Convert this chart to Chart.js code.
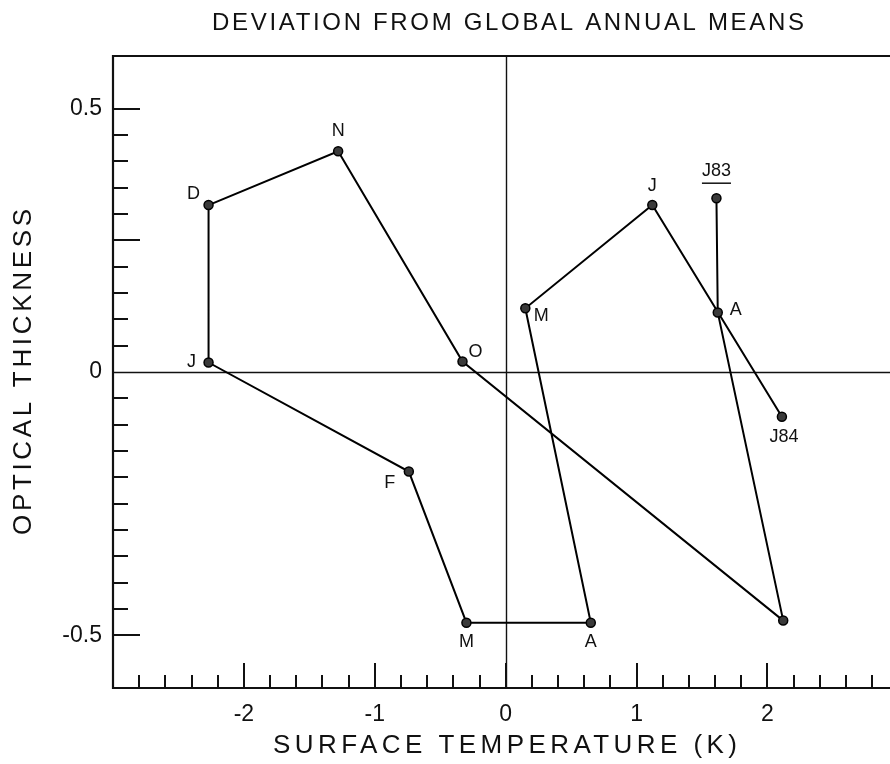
<!DOCTYPE html>
<html>
<head>
<meta charset="utf-8">
<script src="https://cdn.jsdelivr.net/npm/chart.js@4.4.1/dist/chart.umd.min.js"></script>
<style>
  html, body { margin: 0; padding: 0; background: #fff; overflow: hidden; }
  #wrap { width: 890px; height: 764px; }
</style>
</head>
<body>
<div id="wrap"><canvas id="chart" width="890" height="764"></canvas></div>
<script>
// monthly points, Jun 1983 .. Jun 1984 (labels as printed)
const months = ['J83', 'A', 'S', 'O', 'N', 'D', 'J', 'F', 'M', 'A', 'M', 'J', 'J84'];
const tempDev = [1.61, 1.62, 2.12, -0.33, -1.28, -2.27, -2.27, -0.74, -0.3, 0.65, 0.15, 1.12, 2.11];
const tauDev = [0.33, 0.113, -0.472, 0.02, 0.419, 0.317, 0.018, -0.189, -0.476, -0.476, 0.121, 0.317, -0.085];

// axis tick labels
const xTicks = [-2, -1, 0, 1, 2];
const yTicks = [-0.5, 0, 0.5];

// where each month label sits relative to its point (px), null = no label
const labelOffsets = [[0, -27], [18, -2], null, [13, -9], [0, -20], [-15, -11], [-17, 0],
  [-19, 11], [0, 19], [0, 19], [16, 8], [0, -19], [2, 20]];

const FONT = '"Liberation Sans", Arial, sans-serif';
const INK = '#111';

// draw text stretched (by letter spacing) to a given width, centred on cx
const fitText = (ctx, text, cx, cy, width, size) => {
  ctx.font = size + 'px ' + FONT;
  ctx.letterSpacing = '0px';
  const w = ctx.measureText(text).width;
  const sp = (width - w) / (text.length - 1);
  ctx.letterSpacing = sp + 'px';
  ctx.textAlign = 'left';
  ctx.textBaseline = 'middle';
  ctx.fillText(text, cx - width / 2, cy);
  ctx.letterSpacing = '0px';
};

const decorPlugin = {
  id: 'decor',
  beforeDatasetsDraw(chart) {
    const ctx = chart.ctx;
    const a = chart.chartArea;
    const xs = chart.scales.x, ys = chart.scales.y;
    const edge = chart.width + 2;
    ctx.save();
    ctx.strokeStyle = INK;
    // frame (right side runs off the page)
    ctx.lineWidth = 2.2;
    ctx.beginPath();
    ctx.moveTo(edge, a.top);
    ctx.lineTo(a.left, a.top);
    ctx.lineTo(a.left, a.bottom);
    ctx.lineTo(edge, a.bottom);
    ctx.stroke();
    // zero lines
    ctx.lineWidth = 1.4;
    ctx.beginPath();
    const x0 = Math.round(xs.getPixelForValue(0)) + 0.5;
    const y0 = Math.round(ys.getPixelForValue(0)) + 0.5;
    ctx.moveTo(x0, a.top); ctx.lineTo(x0, a.bottom);
    ctx.moveTo(a.left, y0); ctx.lineTo(edge, y0);
    ctx.stroke();
    // inward tick marks on the bottom axis
    ctx.lineWidth = 2;
    ctx.beginPath();
    for (let i = -14; i <= 14; i++) {
      const v = i / 5;
      const px = Math.round(xs.getPixelForValue(v));
      const len = i % 5 === 0 ? 25 : 13;
      ctx.moveTo(px, a.bottom); ctx.lineTo(px, a.bottom - len);
    }
    // inward tick marks on the left axis
    for (let i = -10; i <= 10; i++) {
      if (i === 0) continue;
      const v = i / 20;
      const py = Math.round(ys.getPixelForValue(v));
      const len = (i === 10 || i === 5 || i === -10) ? 27 : 15;
      ctx.moveTo(a.left, py); ctx.lineTo(a.left + len, py);
    }
    ctx.stroke();
    ctx.restore();
  },
  afterDraw(chart) {
    const ctx = chart.ctx;
    const xs = chart.scales.x, ys = chart.scales.y;
    ctx.save();
    ctx.fillStyle = INK;
    ctx.strokeStyle = INK;
    // month labels
    ctx.font = '18px ' + FONT;
    ctx.textAlign = 'center';
    ctx.textBaseline = 'middle';
    months.forEach((m, i) => {
      const off = labelOffsets[i];
      if (!off) return;
      const px = xs.getPixelForValue(tempDev[i]) + off[0];
      const py = ys.getPixelForValue(tauDev[i]) + off[1];
      ctx.fillText(m, px, py);
      if (m === 'J83') {
        const w = ctx.measureText(m).width;
        ctx.lineWidth = 1.5;
        ctx.beginPath();
        ctx.moveTo(px - w / 2, py + 12); ctx.lineTo(px + w / 2, py + 12);
        ctx.stroke();
      }
    });
    // titles
    fitText(ctx, 'DEVIATION FROM GLOBAL ANNUAL MEANS', 508, 23, 592, 24);
    fitText(ctx, 'SURFACE TEMPERATURE (K)', 505, 746, 464, 26);
    ctx.save();
    ctx.translate(24, 372);
    ctx.rotate(-Math.PI / 2);
    fitText(ctx, 'OPTICAL THICKNESS', 0, 0, 326, 26);
    ctx.restore();
    ctx.restore();
  }
};

const points = tempDev.map((x, i) => ({ x: x, y: tauDev[i] }));

new Chart(document.getElementById('chart').getContext('2d'), {
  type: 'scatter',
  data: {
    datasets: [{
      data: points,
      showLine: true,
      borderColor: '#000',
      borderWidth: 2,
      pointRadius: 4.5,
      pointBackgroundColor: '#3a3a3a',
      pointBorderColor: '#000',
      pointBorderWidth: 1.5,
      tension: 0
    }]
  },
  options: {
    responsive: false,
    animation: false,
    layout: { padding: { top: 56, right: 0, left: 0, bottom: 0 } },
    plugins: { legend: { display: false }, tooltip: { enabled: false } },
    scales: {
      x: {
        type: 'linear',
        min: -3,
        max: 2.89,
        grid: { display: false, drawTicks: false },
        border: { display: false },
        afterBuildTicks: (s) => { s.ticks = xTicks.map(v => ({ value: v })); },
        afterFit: (s) => { s.height = 76; },
        ticks: {
          padding: 13,
          color: INK,
          font: { family: FONT, size: 23 },
          maxRotation: 0,
          callback: (v) => String(v)
        }
      },
      y: {
        type: 'linear',
        min: -0.6,
        max: 0.6,
        grid: { display: false, drawTicks: false },
        border: { display: false },
        afterBuildTicks: (s) => { s.ticks = yTicks.map(v => ({ value: v })); },
        afterFit: (s) => { s.width = 113; },
        ticks: {
          padding: 11,
          color: INK,
          font: { family: FONT, size: 23 },
          callback: (v) => String(v)
        }
      }
    }
  },
  plugins: [decorPlugin]
});
</script>
</body>
</html>
